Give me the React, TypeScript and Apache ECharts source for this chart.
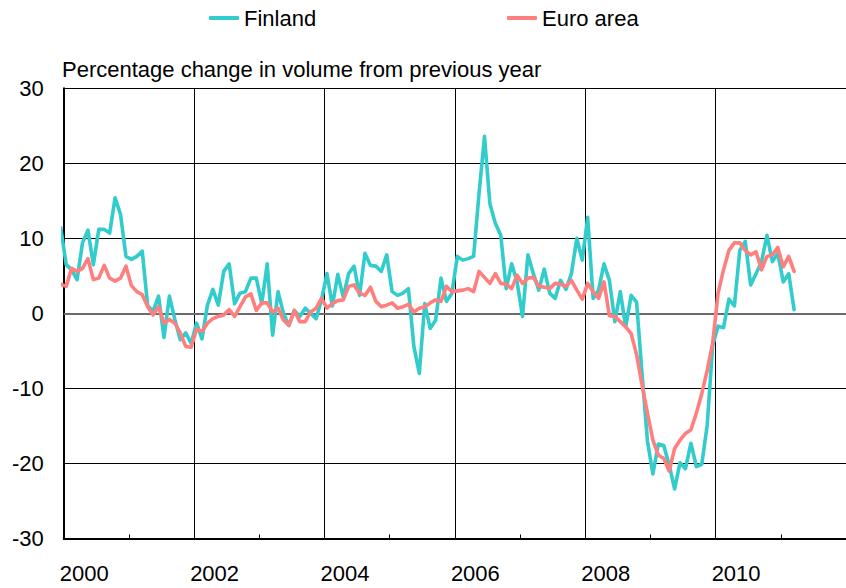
import React, { useEffect, useRef } from "react";
import * as echarts from "echarts";

// Monthly observations; the first value is the mid-December 1999 point,
// whose segment is clipped at the start of the axis (January 2000).
const FIRST_POINT_YEAR = 2000 - 0.55 / 12;

const finland: number[] = [
  11.4,
  6.5, 5.8, 4.5, 9.4, 11.1, 6.5, 11.2, 11.2, 10.7, 15.4, 13.2, 7.6,
  7.2, 7.6, 8.3, 1.0, 0.3, 2.3, -3.2, 2.3, -0.8, -3.5, -2.6, -4.0,
  -1.3, -3.4, 1.1, 3.2, 1.1, 5.6, 6.6, 1.3, 2.7, 2.9, 4.7, 4.7,
  1.3, 6.6, -2.9, 2.9, 0.0, -1.6, 0.4, -0.4, 0.7, 0.0, -0.7, 1.8,
  5.3, 1.0, 5.2, 2.2, 5.3, 6.3, 2.4, 8.0, 6.4, 6.3, 5.6, 7.8,
  2.9, 2.4, 2.7, 3.3, -4.4, -8.0, 1.3, -2.0, -0.9, 4.7, 1.6, 2.7,
  7.6, 7.1, 7.3, 7.6, 16.0, 23.6, 14.6, 12.0, 10.4, 3.3, 6.6, 4.2,
  -0.4, 7.8, 5.3, 3.1, 5.9, 2.7, 2.0, 4.4, 3.2, 5.3, 10.0, 7.1,
  12.8, 2.0, 3.1, 6.6, 4.4, -1.1, 2.9, -1.8, 2.4, 1.5, -8.0, -17.0,
  -21.4, -17.4, -17.6, -20.2, -23.4, -19.9, -20.7, -17.3, -20.4, -20.1, -14.9, -4.3,
  -1.7, -1.9, 1.9, 1.0, 8.4, 9.6, 3.8, 5.3, 6.9, 10.4, 6.9, 8.0,
  4.2, 5.3, 0.5,
];

const euroArea: number[] = [
  3.9,
  3.6, 6.0, 5.6, 6.0, 7.3, 4.5, 4.7, 6.4, 4.7, 4.3, 4.7, 6.3,
  3.7, 2.9, 2.5, 0.9, -0.2, 0.9, -1.3, -0.8, -1.3, -2.6, -4.4, -4.5,
  -2.1, -2.4, -1.3, -0.7, -0.4, -0.2, 0.5, -0.4, 0.9, 2.2, 2.6, 0.4,
  1.4, 1.4, 0.2, 0.7, -0.9, -1.6, 0.4, -1.1, -1.1, 0.2, 0.7, 2.0,
  0.7, 1.3, 1.7, 1.8, 3.6, 3.8, 2.7, 2.4, 3.5, 1.6, 0.9, 1.1,
  1.4, 0.7, 0.9, 1.2, 0.2, 0.7, 0.9, 1.4, 1.8, 1.6, 3.6, 2.9,
  3.0, 3.1, 3.3, 2.9, 5.6, 4.8, 4.0, 5.3, 4.0, 3.9, 3.3, 5.1,
  4.0, 4.7, 4.8, 3.6, 3.5, 3.3, 4.0, 3.9, 3.6, 4.4, 3.1, 1.9,
  4.0, 2.9, 2.0, 4.2, -0.3, -0.4, -1.1, -1.8, -2.7, -5.5, -9.5, -13.3,
  -16.9, -18.9, -19.3, -21.0, -18.0, -16.9, -16.0, -15.5, -13.3, -10.7, -7.6, -4.0,
  2.7, 5.8, 8.4, 9.4, 9.4, 8.4, 7.8, 8.2, 5.8, 7.6, 7.8, 8.8,
  6.2, 7.6, 5.6,
];

const seriesNames = ["Finland", "Euro area"];
const seriesColors = ["#33CCCC", "#FF7F7F"];
const unitTitle = "Percentage change in volume from previous year";

const FONT = "'Liberation Sans', Arial, Helvetica, sans-serif";

export default function App() {
  const ref = useRef<HTMLDivElement>(null);

  useEffect(() => {
    if (!ref.current) return;
    const chart = echarts.init(ref.current, null, { renderer: "svg" });
    const toPoints = (vals: number[]) =>
      vals.map((v, i) => [FIRST_POINT_YEAR + i / 12, v]);

    chart.setOption({
      animation: false,
      backgroundColor: "#ffffff",
      textStyle: { fontFamily: FONT },
      title: {
        text: unitTitle,
        left: 62,
        top: 58,
        padding: 0,
        textStyle: {
          fontFamily: FONT,
          fontSize: 22,
          fontWeight: "normal",
          color: "#000",
        },
      },
      legend: [
        {
          data: [seriesNames[0]],
          left: 209,
          top: 7,
          padding: 0,
          icon: "roundRect",
          itemWidth: 30,
          itemHeight: 4,
          textStyle: { fontFamily: FONT, fontSize: 22, color: "#000" },
        },
        {
          data: [seriesNames[1]],
          left: 507,
          top: 7,
          padding: 0,
          icon: "roundRect",
          itemWidth: 30,
          itemHeight: 4,
          textStyle: { fontFamily: FONT, fontSize: 22, color: "#000" },
        },
      ],
      grid: {
        left: 63.75,
        right: -5.25,
        top: 88.3,
        bottom: 49.5,
        containLabel: false,
      },
      xAxis: {
        type: "value",
        min: 2000,
        max: 2012,
        interval: 2,
        axisLine: { show: true, onZero: false, lineStyle: { color: "#000", width: 2 } },
        axisTick: { show: true, inside: true, length: 4, lineStyle: { color: "#000", width: 1 } },
        minorTick: { show: true, splitNumber: 2, length: 4, lineStyle: { color: "#000", width: 1 } },
        splitLine: { show: true, lineStyle: { color: "#000", width: 1 } },
        axisLabel: {
          show: true,
          showMaxLabel: false,
          align: "left",
          padding: [0, 0, 0, -4],
          margin: 24,
          fontSize: 22,
          fontFamily: FONT,
          color: "#000",
          formatter: (v: number) =>
            Math.abs(v - Math.round(v)) < 1e-6 && Math.round(v) % 2 === 0 && v < 2011.5
              ? String(Math.round(v))
              : "",
        },
      },
      yAxis: {
        type: "value",
        min: -30,
        max: 30,
        interval: 10,
        axisLine: { show: true, lineStyle: { color: "#000", width: 2 } },
        axisTick: { show: false },
        splitLine: { show: true, lineStyle: { color: "#000", width: 1 } },
        axisLabel: {
          margin: 20,
          fontSize: 22,
          fontFamily: FONT,
          color: "#000",
          padding: [5, 0, 0, 0],
        },
      },
      series: [
        {
          name: seriesNames[0],
          type: "line",
          data: toPoints(finland),
          showSymbol: false,
          symbol: "none",
          clip: true,
          color: seriesColors[0],
          lineStyle: { color: seriesColors[0], width: 3.6, join: "round", cap: "round" },
          z: 3,
          markLine: {
            silent: true,
            z: 1,
            symbol: ["none", "none"],
            label: { show: false },
            lineStyle: { color: "#6b6b6b", width: 2, type: "solid" },
            data: [{ yAxis: 0 }],
          },
        },
        {
          name: seriesNames[1],
          type: "line",
          data: toPoints(euroArea),
          showSymbol: false,
          symbol: "none",
          clip: true,
          color: seriesColors[1],
          lineStyle: { color: seriesColors[1], width: 3.6, join: "round", cap: "round" },
          z: 4,
        },
      ],
    });

    return () => chart.dispose();
  }, []);

  return (
    <div
      ref={ref}
      style={{
        position: "fixed",
        left: 0,
        top: 0,
        width: 846,
        height: 588,
        background: "#fff",
      }}
    />
  );
}
